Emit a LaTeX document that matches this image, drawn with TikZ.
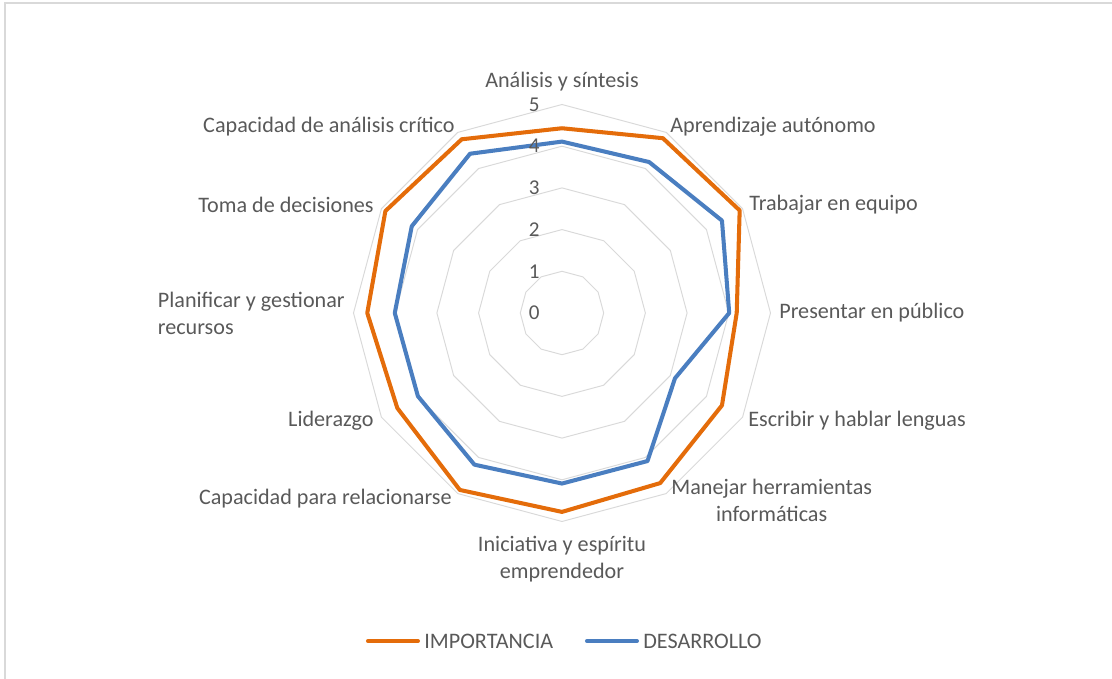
\documentclass[tikz,border=0pt]{standalone}
\usepackage{fontspec}
\setmainfont{Carlito}
\usepackage{tikz}
\usetikzlibrary{calc}
\definecolor{grid-grey}{RGB}{217,217,217}
\definecolor{text-grey}{RGB}{89,89,89}
\definecolor{imp-orange}{RGB}{228,108,10}
\definecolor{des-blue}{RGB}{74,126,192}
\tikzstyle{frame}=[draw=grid-grey, line width=0.75pt]
\tikzstyle{gridline}=[draw=grid-grey, line width=0.55pt]
\tikzstyle{series}=[line width=2.3pt, line join=round]
\tikzstyle{importancia}=[series, draw=imp-orange]
\tikzstyle{desarrollo}=[series, draw=des-blue]
\tikzstyle{catlbl}=[text=text-grey, inner sep=0pt, font=\fontsize{12.6}{15.3}\selectfont]
\tikzstyle{ticklbl}=[text=text-grey, inner sep=0pt, font=\fontsize{12}{13}\selectfont]
\newcommand{\radarLine}[3]{
	\draw[#1] (90:#2) foreach \v [count=\i] in {#3} { -- (90-30*\i:\v) } -- cycle;
}
\newcommand{\legendKey}[4]{
	\draw[#1, line cap=round] ($#2$) -- ($#2+(1,0)$);
	\node[catlbl, anchor=west] (#3) at ($#2+(1.12,0)$) {#4};
}

\begin{document}
\begin{tikzpicture}
	\useasboundingbox (-11.24,-7.32) rectangle (11.0,6.26);
	\draw[frame] (-11.14,-7.32) -- (-11.14,6.20) -- (11.0,6.20);
	\begin{scope}[x=0.834cm,y=0.834cm]
		\foreach \k in {1,...,5}
			\draw[gridline] (90:\k) foreach \j in {1,...,11} { -- (90-30*\j:\k) } -- cycle;
		\radarLine{importancia}{4.43}{4.84,4.92,4.19,4.43,4.71,4.77,4.90,4.56,4.67,4.89,4.81}
		\radarLine{desarrollo}{4.11}{4.18,4.43,4.01,3.13,4.10,4.09,4.20,3.99,4.01,4.16,4.41}
		\foreach \k in {0,...,5}
			\node[ticklbl, anchor=east] (tick\k) at (-0.53,\k) {\k};
	\end{scope}
	\node[catlbl] (analisis) at (0,4.62) {Análisis y síntesis};
	\node[catlbl, anchor=west] (aprendizaje) at (2.16,3.72) {Aprendizaje autónomo};
	\node[catlbl, anchor=west] (equipo) at (3.74,2.16) {Trabajar en equipo};
	\node[catlbl, anchor=west] (presentar) at (4.34,0) {Presentar en público};
	\node[catlbl, anchor=west] (lenguas) at (3.72,-2.16) {Escribir y hablar lenguas};
	\node[catlbl, anchor=west, align=center] (herramientas) at (2.18,-3.74) {Manejar herramientas\\informáticas};
	\node[catlbl, align=center] (iniciativa) at (0,-4.92) {Iniciativa y espíritu\\emprendedor};
	\node[catlbl, anchor=east] (relacionarse) at (-2.2,-3.72) {Capacidad para relacionarse};
	\node[catlbl, anchor=east] (liderazgo) at (-3.76,-2.16) {Liderazgo};
	\node[catlbl, anchor=east, align=left] (planificar) at (-4.34,0) {Planificar y gestionar\\recursos};
	\node[catlbl, anchor=east] (decisiones) at (-3.76,2.16) {Toma de decisiones};
	\node[catlbl, anchor=east] (critico) at (-2.14,3.72) {Capacidad de análisis crítico};
	% legend
	\legendKey{importancia}{(-3.88,-6.56)}{legimp}{IMPORTANCIA}
	\legendKey{desarrollo}{(0.5,-6.56)}{legdes}{DESARROLLO}
\end{tikzpicture}
\end{document}
